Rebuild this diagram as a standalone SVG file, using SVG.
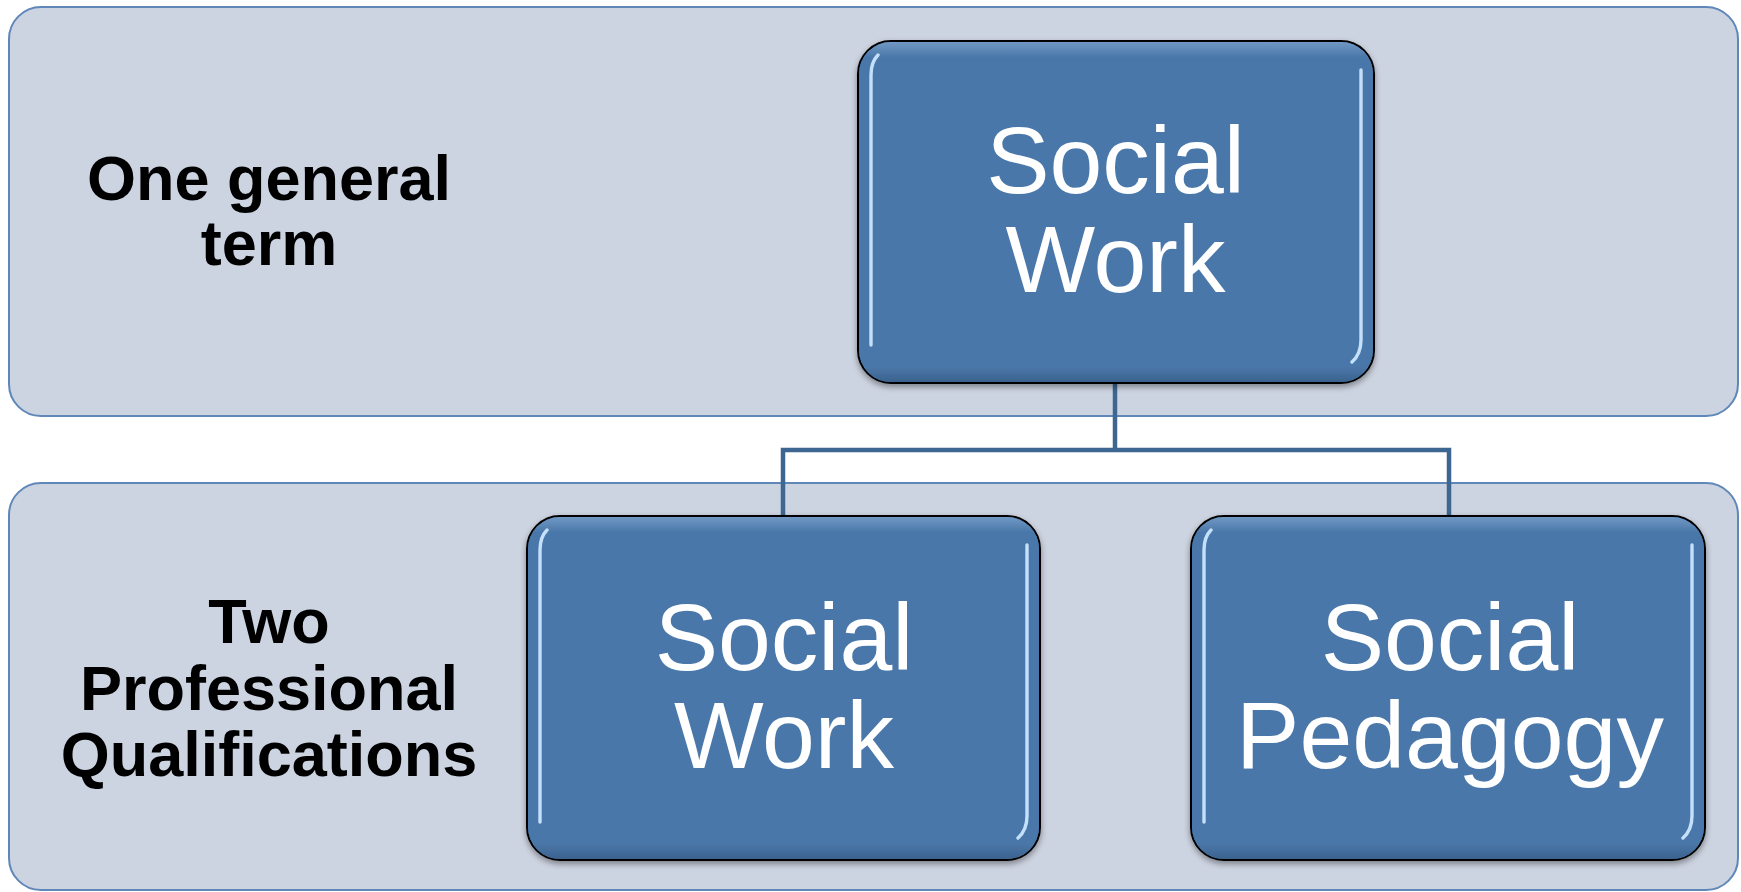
<svg xmlns="http://www.w3.org/2000/svg" width="1741" height="892" viewBox="0 0 1741 892">
  <style>
    .panel { fill: #cdd4e1; stroke: #5f87b8; stroke-width: 2; }
    .node { fill: #4a77a9; stroke: #000000; stroke-width: 2; }
    .bevel { fill: url(#bevel); stroke: none; }
    .hl { fill: none; stroke: #c4e0fa; stroke-width: 3.4; stroke-linecap: round; }
    .ntext { font-family: "Liberation Sans", Arial, sans-serif; font-size: 95px; fill: #ffffff; text-anchor: middle; }
    .ltext { font-family: "Liberation Sans", Arial, sans-serif; font-size: 63px; font-weight: bold; fill: #000000; text-anchor: middle; }
    .conn { fill: none; stroke: #3d6690; stroke-width: 4.5; stroke-linejoin: miter; }
  </style>
  <defs>
    <linearGradient id="bevel" x1="0" y1="0" x2="0" y2="1">
      <stop offset="0" stop-color="#7098c4"/>
      <stop offset="0.045" stop-color="#4a77a9"/>
      <stop offset="0.955" stop-color="#4a77a9"/>
      <stop offset="1" stop-color="#3b628e"/>
    </linearGradient>
    <filter id="shadow" x="-5%" y="-5%" width="110%" height="115%">
      <feGaussianBlur in="SourceAlpha" stdDeviation="3"/>
      <feOffset dx="0" dy="3" result="b"/>
      <feComponentTransfer><feFuncA type="linear" slope="0.4"/></feComponentTransfer>
      <feMerge><feMergeNode/><feMergeNode in="SourceGraphic"/></feMerge>
    </filter>
  </defs>

  <g id="panel-top">
    <rect class="panel" x="9" y="7" width="1729" height="409" rx="32"/>
  </g>
  <g id="panel-bottom">
    <rect class="panel" x="9" y="483" width="1729" height="407" rx="32"/>
  </g>

  <g id="label-top">
    <text class="ltext" x="269" y="200">One general</text>
    <text class="ltext" x="269" y="265">term</text>
  </g>
  <g id="label-bottom">
    <text class="ltext" x="269" y="643">Two</text>
    <text class="ltext" x="269" y="710">Professional</text>
    <text class="ltext" x="269" y="776">Qualifications</text>
  </g>

  <g id="connectors">
    <path class="conn" d="M1115,383 V450"/>
    <path class="conn" d="M783,516 V450 H1449 V516"/>
  </g>

  <g id="node-social-work-top" filter="url(#shadow)">
    <rect class="node" x="858" y="41" width="516" height="342" rx="33"/>
    <rect class="bevel" x="859" y="42" width="514" height="340" rx="32"/>
    <path class="hl" d="M871,345 V75 Q871,62 878,55"/>
    <path class="hl" d="M1361,70 V340 Q1361,354 1352,362"/>
    <text class="ntext" x="1115.5" y="193">Social</text>
    <text class="ntext" x="1115.5" y="292">Work</text>
  </g>

  <g id="node-social-work" filter="url(#shadow)">
    <rect class="node" x="527" y="516" width="513" height="344" rx="33"/>
    <rect class="bevel" x="528" y="517" width="511" height="342" rx="32"/>
    <path class="hl" d="M540,822 V550 Q540,537 547,530"/>
    <path class="hl" d="M1027,545 V816 Q1027,830 1018,838"/>
    <text class="ntext" x="784" y="670">Social</text>
    <text class="ntext" x="784" y="768">Work</text>
  </g>

  <g id="node-social-pedagogy" filter="url(#shadow)">
    <rect class="node" x="1191" y="516" width="514" height="344" rx="33"/>
    <rect class="bevel" x="1192" y="517" width="512" height="342" rx="32"/>
    <path class="hl" d="M1204,822 V550 Q1204,537 1211,530"/>
    <path class="hl" d="M1692,545 V816 Q1692,830 1683,838"/>
    <text class="ntext" x="1450" y="670">Social</text>
    <text class="ntext" x="1450" y="768">Pedagogy</text>
  </g>
</svg>
